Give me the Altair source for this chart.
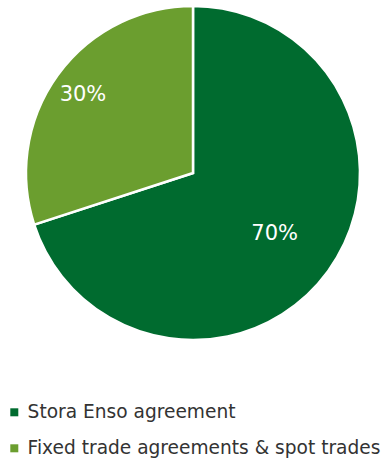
import altair as alt
import pandas as pd

categories = ["Stora Enso agreement", "Fixed trade agreements & spot trades"]
values = [70, 30]
labels = ["70%", "30%"]
colors = ["#006b2f", "#6b9e2f"]
label_radius = [101, 136]

df = pd.DataFrame({"cat": categories, "val": values, "lab": labels,
                   "order": [0, 1], "lr": label_radius})

pie = alt.Chart(df).mark_arc(outerRadius=167, stroke="white", strokeWidth=2.5).encode(
    theta=alt.Theta("val:Q", stack=True),
    order=alt.Order("order:Q"),
    x=alt.value(193), y=alt.value(173),
    color=alt.Color("cat:N", scale=alt.Scale(domain=categories, range=colors),
                    sort=categories,
                    legend=alt.Legend(title=None, orient="none", legendX=5, legendY=403,
                                      symbolType="square", symbolSize=64,
                                      labelFont="DejaVu Sans", labelFontSize=18.6,
                                      labelColor="#333333", rowPadding=17, labelLimit=0,
                                      symbolStrokeWidth=0, labelOffset=4))
)

text = alt.Chart(df).transform_window(
    cum="sum(val)", sort=[alt.SortField("order")]
).transform_joinaggregate(total="sum(val)").transform_calculate(
    ang="(datum.cum - datum.val/2) / datum.total * 2 * PI"
).mark_text(font="DejaVu Sans", fontSize=21, color="white", dy=2).encode(
    theta=alt.Theta("ang:Q", scale=None),
    radius=alt.Radius("lr:Q", scale=None),
    x=alt.value(193), y=alt.value(173),
    text="lab:N",
)

chart = (pie + text).properties(width=390, height=463, padding=0,
                                autosize=alt.AutoSizeParams(type="none")).configure_view(stroke=None)

chart.save("out.html", embed_options={"renderer": "svg", "actions": False})
